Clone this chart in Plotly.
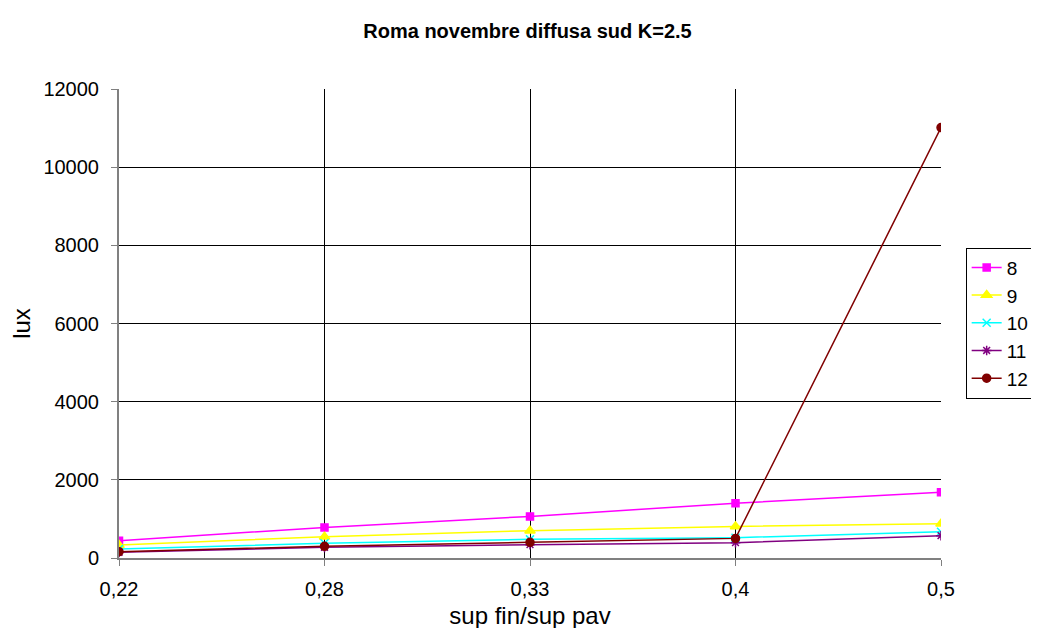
import plotly.graph_objects as go

# data
categories = ["0,22", "0,28", "0,33", "0,4", "0,5"]
s8 = [444, 783, 1064, 1403, 1684]
s9 = [330, 546, 699, 809, 877]
s10 = [230, 375, 477, 520, 673]
s11 = [145, 273, 342, 393, 571]
s12 = [163, 298, 400, 502, 11013]

series = [
    ("8", s8, "#FF00FF", "square", 7),
    ("9", s9, "#FFFF00", "triangle-up", 9),
    ("10", s10, "#00FFFF", "x-thin-open", 8),
    ("11", s11, "#800080", "asterisk-open", 8),
    ("12", s12, "#800000", "circle", 8),
]

xpos = list(range(len(categories)))

fig = go.Figure()
for name, vals, col, sym, sz in series:
    fig.add_trace(go.Scatter(
        x=xpos, y=vals, name=name, mode="lines+markers",
        line=dict(color=col, width=1.5),
        marker=dict(symbol=sym, size=sz, color=col, line=dict(color=col, width=1.5)),
    ))

fig.update_layout(
    width=1039, height=628,
    paper_bgcolor="white", plot_bgcolor="white",
    margin=dict(l=111, r=106, t=81, b=78, autoexpand=False),
    font=dict(family="Liberation Sans, Arial, sans-serif", size=20, color="black"),
    title=dict(text="<b>Roma novembre diffusa sud K=2.5</b>", x=0.5, xanchor="center",
               y=1 - 23 / 628, yanchor="middle", font=dict(size=20)),
    showlegend=True,
    legend=dict(x=1.03, y=0.501, xanchor="left", yanchor="middle",
                bordercolor="black", borderwidth=1, bgcolor="white",
                font=dict(size=19), tracegroupgap=0, itemwidth=30),
)
fig.update_xaxes(
    tickvals=xpos, ticktext=categories, range=[0, len(categories) - 1],
    showgrid=True, gridcolor="black", gridwidth=1,
    showline=True, linecolor="#808080", linewidth=2,
    ticks="outside", ticklen=6, tickcolor="#808080", ticklabelstandoff=6,
    title=dict(text="sup fin/sup pav", standoff=8),
    zeroline=False, automargin=False,
)
fig.update_yaxes(
    range=[0, 12000], dtick=2000, tickformat="d",
    showgrid=True, gridcolor="black", gridwidth=1,
    showline=True, linecolor="#808080", linewidth=2,
    ticks="outside", ticklen=6, tickcolor="#808080", ticklabelstandoff=8,
    title=dict(text="lux", standoff=10),
    zeroline=False, automargin=False,
)

fig.write_html("out.html")
